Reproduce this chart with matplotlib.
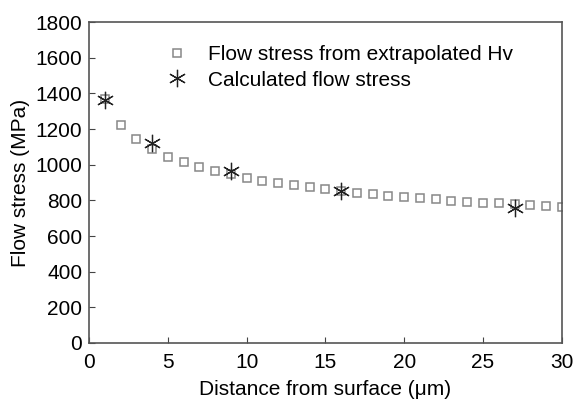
import matplotlib.pyplot as plt
import numpy as np

plt.rcParams['font.family'] = ['Liberation Sans', 'DejaVu Sans']

# Flow stress from extrapolated Hv
x_hv = list(range(1, 31))
y_hv = [1370, 1222, 1144, 1088, 1045, 1013, 985, 964, 948, 923,
        910, 897, 886, 873, 862, 851, 843, 835, 824, 817,
        811, 806, 798, 792, 787, 783, 778, 772, 766, 764]

# Calculated flow stress
x_calc = [1, 4, 9, 16, 27]
y_calc = [1362, 1123, 964, 851, 755]

fig, ax = plt.subplots(figsize=(5.75, 4.03), dpi=100)
fig.subplots_adjust(left=0.155, right=0.977, top=0.945, bottom=0.149)

ax.plot(x_hv, y_hv, 's', ms=6.2, mfc='white', mec='#888888', mew=1.1,
        linestyle='none', label='Flow stress from extrapolated Hv')
ax.plot(x_calc, y_calc, marker=(6, 2, 0), ms=12.5, color='#222222', mew=0.9,
        linestyle='none', label='Calculated flow stress')

ax.set_xlim(0, 30)
ax.set_ylim(0, 1800)
ax.set_xticks(np.arange(0, 31, 5))
ax.set_yticks(np.arange(0, 1801, 200))
ax.tick_params(direction='in', labelsize=15, length=4, color='#444444')
ax.tick_params(axis='x', pad=7)
ax.tick_params(axis='y', pad=5)
for s in ax.spines.values():
    s.set_color('#555555')
    s.set_linewidth(1.2)

ax.set_xlabel('Distance from surface (μm)', fontsize=15, labelpad=6)
ax.set_ylabel('Flow stress (MPa)', fontsize=15, labelpad=4)

ax.legend(loc='upper left', bbox_to_anchor=(0.142, 0.928), frameon=False,
          fontsize=15, handlelength=2.0, handletextpad=0.5, labelspacing=0.3,
          borderpad=0, borderaxespad=0)

plt.savefig('out.png', dpi=100)
